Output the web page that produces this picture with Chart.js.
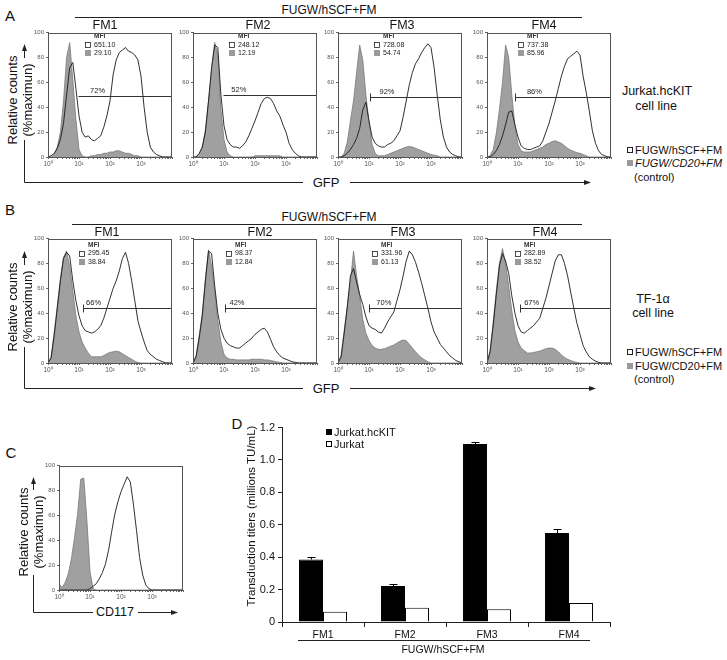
<!DOCTYPE html>
<html><head><meta charset="utf-8">
<script src="https://cdn.jsdelivr.net/npm/chart.js@4.4.1/dist/chart.umd.min.js"></script>
<style>
body{margin:0;background:#fff;width:727px;height:660px;position:relative;overflow:hidden;font-family:"Liberation Sans",Arial,sans-serif;color:#111}
.t{position:absolute;white-space:nowrap;line-height:1}
canvas{position:absolute}
</style></head><body>
<svg id="deco" width="727" height="660" style="position:absolute;left:0;top:0" xmlns="http://www.w3.org/2000/svg">
 <g stroke="#222" stroke-width="1" fill="none">
  <line x1="75" y1="17.5" x2="582" y2="17.5"/>
  <line x1="72" y1="224.5" x2="582" y2="224.5"/>
  <polyline points="24.5,140 24.5,182.5 303,182.5"/>
  <line x1="350" y1="182.5" x2="584" y2="182.5"/>
  <line x1="24.5" y1="51" x2="24.5" y2="58"/>
  <polyline points="24.5,347 24.5,388.5 303,388.5"/>
  <line x1="350" y1="388.5" x2="589" y2="388.5"/>
  <line x1="24.5" y1="258" x2="24.5" y2="265"/>
  <polyline points="33.5,575 33.5,612.5 93,612.5"/>
  <line x1="138" y1="612.5" x2="171" y2="612.5"/>
  <line x1="33.5" y1="484" x2="33.5" y2="490"/>
  <line x1="298" y1="640.5" x2="590" y2="640.5"/>
 </g>
 <g fill="#222">
  <polygon points="24.5,44 22,51 27,51"/>
  <polygon points="591,182.5 584,180 584,185"/>
  <polygon points="24.5,251 22,258 27,258"/>
  <polygon points="596,388.5 589,386 589,391"/>
  <polygon points="33.5,477 31,484 36,484"/>
  <polygon points="178,612.5 171,610 171,615"/>
 </g>
</svg>
<script>
// ---------------- DATA ----------------
const LOG_X = [0,0.1,0.2,0.3,0.4,0.5,0.6,0.7,0.8,0.9,1.0,1.1,1.2,1.3,1.4,1.5,1.6,1.7,1.8,1.9,2.0,2.1,2.2,2.3,2.4,2.5,2.6,2.7,2.8,2.9,3.0,3.1,3.2,3.3,3.4,3.5,3.6,3.7,3.8,3.9,4.0];
const LOG_TICK_LABELS = ['10\u2070','10\u00b9','10\u00b2','10\u00b3'];
const FM_NAMES = ['FM1','FM2','FM3','FM4'];

// Panel A (Jurkat.hcKIT): test = FUGW/hSCF+FM, ctrl = FUGW/CD20+FM
const A_FM1_TEST = [0,1,3,7,14,27,50,72,76,55,33,20,16,17,14,13,15,17,24,33,45,66,78,84,86,88,85,84,82,78,65,40,20,8,4,2,1,0,0,0,0];
const A_FM1_CTRL = [0,0,2,8,20,45,80,92,62,30,6,1,0,0,1,1,2,2,3,3,4,4,5,5,4,3,3,2,1,1,0,0,0,0,0,0,0,0,0,0,0];
const A_FM2_TEST = [0,0,3,8,20,45,72,90,88,50,25,14,10,8,8,7,9,12,17,23,29,36,43,47,48,47,43,37,33,26,20,11,6,3,1,0,0,0,0,0,0];
const A_FM2_CTRL = [0,0,2,8,22,45,70,92,82,38,14,4,1,0,0,0,0,0,0,0,1,1,1,1,1,1,1,1,1,0,0,0,0,0,0,0,0,0,0,0,0];
const A_FM3_TEST = [0,0,1,3,6,10,15,23,38,44,29,16,11,9,8,8,10,11,13,17,21,32,45,58,68,75,79,84,88,91,88,72,50,30,16,8,4,2,1,0,0];
const A_FM3_CTRL = [0,0,3,12,29,45,68,90,78,50,28,10,3,1,1,1,2,3,4,5,6,7,8,8.5,8,7,6,5,4,3,2,1.5,1,0,0,0,0,0,0,0,0];
const A_FM4_TEST = [0,0,2,5,10,17,26,36,37,26,16,9,7,6,6,7,8,9,13,20,27,36,45,55,65,73,79,81,83,85,82,65,52,37,21,11,5,2,1,0,0];
const A_FM4_CTRL = [0,1,6,19,38,60,90,80,50,25,10,5,4,4,4,5,6,7,8,10,11,12.5,13,12,11,9,7,5.5,4.5,3.5,3,2,1,0,0,0,0,0,0,0,0];
const A_MFI_TEST = ['651.10','248.12','728.08','737.38'];
const A_MFI_CTRL = ['29.10','12.19','54.74','85.96'];
const A_GATE_PCT = ['72%','52%','92%','86%'];
const A_GATE_START = [0.97,0.96,1.02,0.9];
const A_GATE_LEVEL = [49,49.5,48.5,48.5];

// Panel B (TF-1alpha)
const B_FM1_TEST = [0,4,22,44,66,84,89,86,66,50,38,30,26,25,24,25,27,30,36,44,52,60,66,74,84,89,80,66,50,34,25,17,10,7,5,3,2,1,0,0,0];
const B_FM1_CTRL = [0,5,25,46,68,85,90,78,58,38,25,17,12,8,5,5,5,5,6,7.5,8.5,9,9.5,9,7.5,6,4.5,3,1.5,0.5,0,0,0,0,0,0,0,0,0,0,0];
const B_FM2_TEST = [0,5,20,38,66,90,88,62,40,27,20,16,14,13,12,12,14,16,18,20,23,25,27,28,25,19,13,9,6,4,3,2,1,0.5,0,0,0,0,0,0,0];
const B_FM2_CTRL = [0,6,22,40,68,91,78,58,34,17,7,4,3,3,2.5,2.5,2.5,2.5,2.5,3,3,3,3,2.5,2.5,2,1.5,1,0.5,0,0,0,0,0,0,0,0,0,0,0,0];
const B_FM3_TEST = [0,5,24,45,70,76,65,55,47,37,30,28,27,25,24,28,33,37,41,50,59,70,82,90,87,81,73,64,54,44,33,25,20,15,12,9,6,4,2,1,0];
const B_FM3_CTRL = [0,6,26,46,65,90,70,54,35,24,18,14,12,11,11,11.5,12.5,13.5,14.5,16,17.5,18.5,18,15,12,9,6.5,4,2.5,1,0,0,0,0,0,0,0,0,0,0,0];
const B_FM4_TEST = [0,9,30,55,78,88,82,72,54,40,30,25,24,26,28,30,33,36,44,52,62,72,82,87,87,80,70,57,44,32,23,14,9,5,3,1.5,0.5,0,0,0,0];
const B_FM4_CTRL = [0,10,33,58,80,92,80,62,42,26,17,12,10,8,8,8.5,9,9.5,10.5,11.5,12,12,11,9,6.5,4.5,3,2,1,0.5,0,0,0,0,0,0,0,0,0,0,0];
const B_MFI_TEST = ['295.45','98.37','331.96','282.89'];
const B_MFI_CTRL = ['38.84','12.84','61.13','38.52'];
const B_GATE_PCT = ['66%','42%','70%','67%'];
const B_GATE_START = [1.14,1.04,1.01,1.05];
const B_GATE_LEVEL = [44.5,44.5,44.5,44.5];

// Panel C (CD117)
const C_TEST = [0,0,0,0,0,0,0,0,0,0,1,3,5,9,14,21,32,47,61,71,79,85,91,87,69,48,26,12,4,1,0,0,0,0,0,0,0,0,0,0,0];
const C_CTRL = [5,2,6,13,25,42,61,89,90,56,15,1,0,0,0,0,0,0,0,0,0,0,0,0,0,0,0,0,0,0,0,0,0,0,0,0,0,0,0,0,0];

// Panel D (transduction titers, millions TU/mL)
const D_CATS = ['FM1','FM2','FM3','FM4'];
const D_KIT = [0.386,0.222,1.098,0.549];
const D_KIT_ERR = [0.014,0.011,0.016,0.025];
const D_JURKAT = [0.063,0.088,0.078,0.118];
const D_Y_TICKS = [0,0.2,0.4,0.6,0.8,1.0,1.2];

// ---------------- LAYOUT ----------------
const FONT = '"Liberation Sans", Arial, sans-serif';
const H_LEFT = [48,193,338,487], H_W = 124, H_H = 126;
const A_TOP = 31, B_TOP = 237;
const A_MFI_X = [1.19,1.17,1.15,1.0], B_MFI_X = [1.0,1.06,1.1,0.9];
const A_PCT_X = [1.6,1.48,1.58,1.53], B_PCT_X = [1.47,1.42,1.48,1.44];
const A_ROWS = [97,90,83.5], B_ROWS = [95,88,81.5];

function text(str, x, y, o={}){
  const d=document.createElement('div'); d.className='t'; d.textContent=str;
  d.style.left=x+'px'; d.style.top=y+'px';
  d.style.fontSize=(o.size||12)+'px';
  if(o.weight) d.style.fontWeight=o.weight;
  if(o.italic) d.style.fontStyle='italic';
  if(o.bg) d.style.background=o.bg;
  const a=o.anchor||'c';
  let tr = a==='c' ? 'translate(-50%,-50%)' : (a==='l' ? 'translate(0,-50%)' : 'translate(-100%,-50%)');
  if(o.rot) tr += ' rotate('+o.rot+'deg)';
  d.style.transform=tr;
  document.body.appendChild(d); return d;
}
function box(x,y,s,fill,stroke){
  const d=document.createElement('div'); d.style.position='absolute';
  d.style.left=x+'px'; d.style.top=(y-s/2)+'px'; d.style.width=s+'px'; d.style.height=s+'px';
  d.style.boxSizing='border-box'; d.style.background=fill; if(stroke) d.style.border='1px solid '+stroke;
  document.body.appendChild(d);
}
function makeCanvas(left, top, w, h){
  const c=document.createElement('canvas');
  c.width=w; c.height=h; c.style.left=left+'px'; c.style.top=top+'px';
  c.style.width=w+'px'; c.style.height=h+'px';
  document.body.appendChild(c); return c;
}

const framePlugin = {
  id:'frame',
  afterDraw(chart){
    const {ctx, chartArea:a} = chart;
    ctx.save(); ctx.strokeStyle='#555'; ctx.lineWidth=1;
    ctx.strokeRect(Math.round(a.left)+0.5, Math.round(a.top)+0.5, Math.round(a.right-a.left)-1, Math.round(a.bottom-a.top));
    ctx.restore();
  }
};
const annotPlugin = {
  id:'annot',
  afterDatasetsDraw(chart, args, o){
    if(!o || o.gateX===undefined) return;
    const {ctx, scales:{x,y}} = chart;
    ctx.save();
    const gx = Math.round(x.getPixelForValue(o.gateX))+0.5;
    const gy = Math.round(y.getPixelForValue(o.gateY))+0.5;
    ctx.strokeStyle='#333'; ctx.lineWidth=1;
    ctx.beginPath(); ctx.moveTo(gx,gy); ctx.lineTo(x.right,gy);
    if(o.tick){ ctx.moveTo(gx,gy-4); ctx.lineTo(gx,gy+4); }
    ctx.stroke();
    ctx.fillStyle='#222'; ctx.font='7.5px '+FONT; ctx.textAlign='center'; ctx.textBaseline='bottom';
    ctx.fillText(o.pct, x.getPixelForValue(o.pctX), gy-1.5);
    const sx = Math.round(x.getPixelForValue(o.mfiX));
    const r0=y.getPixelForValue(o.rows[0]), r1=y.getPixelForValue(o.rows[1]), r2=y.getPixelForValue(o.rows[2]);
    ctx.textAlign='left'; ctx.textBaseline='middle';
    ctx.font='bold 6.5px '+FONT; ctx.fillStyle='#333'; ctx.fillText('MFI', sx+9, r0);
    ctx.strokeStyle='#222'; ctx.lineWidth=0.8; ctx.strokeRect(sx+0.5, Math.round(r1-3)+0.5, 5, 5);
    ctx.fillStyle='#9a9a9a'; ctx.fillRect(sx, Math.round(r2-3), 6, 6);
    ctx.fillStyle='#222'; ctx.font='7px '+FONT;
    ctx.fillText(o.mfi[0], sx+9, r1); ctx.fillText(o.mfi[1], sx+9, r2);
    ctx.restore();
  }
};

function logTicks(axis){
  const t=[];
  for(let d=0; d<4; d++){
    t.push({value:d});
    [2,3,4,5,6,7,8,9].forEach(m=>t.push({value:d+Math.log10(m)}));
  }
  t.push({value:4});
  axis.ticks=t;
}

function histogram(left, top, test, ctrl, annot){
  const c = makeCanvas(left-18, top-4, 18+H_W+3, 4+H_H+14);
  return new Chart(c, {
    type:'line',
    data:{datasets:[
      {data: LOG_X.map((v,i)=>({x:v,y:test[i]})), borderColor:'#1a1a1a', borderWidth:0.9, pointRadius:0, fill:false, tension:0, order:1},
      {data: LOG_X.map((v,i)=>({x:v,y:ctrl[i]})), borderColor:'#7a7a7a', borderWidth:0.8, backgroundColor:'#a0a0a0', fill:'origin', pointRadius:0, tension:0, order:2}
    ]},
    options:{
      responsive:false, animation:false, events:[], devicePixelRatio:1,
      layout:{padding:{left:0,right:3,top:4,bottom:0}},
      plugins:{legend:{display:false}, tooltip:{enabled:false}, annot: annot||{}},
      scales:{
        x:{type:'linear', min:0, max:4, afterBuildTicks:logTicks,
           ticks:{autoSkip:false, maxRotation:0, padding:1, color:'#555', font:{size:6.5, family:FONT},
                  callback:(v)=> (Math.abs(v-Math.round(v))<1e-9 && Math.round(v)<4) ? LOG_TICK_LABELS[Math.round(v)] : ''},
           grid:{drawOnChartArea:false, tickLength:2, color:'#666'}, border:{color:'#555'},
           afterFit:(s)=>{s.height=14;}},
        y:{min:0, max:100, ticks:{stepSize:20, padding:2, color:'#555', font:{size:6, family:FONT}},
           grid:{drawOnChartArea:false, tickLength:2, color:'#666'}, border:{color:'#555'},
           afterFit:(s)=>{s.width=18;}}
      }
    },
    plugins:[framePlugin, annotPlugin]
  });
}

const A_TEST=[A_FM1_TEST,A_FM2_TEST,A_FM3_TEST,A_FM4_TEST], A_CTRL=[A_FM1_CTRL,A_FM2_CTRL,A_FM3_CTRL,A_FM4_CTRL];
const B_TEST=[B_FM1_TEST,B_FM2_TEST,B_FM3_TEST,B_FM4_TEST], B_CTRL=[B_FM1_CTRL,B_FM2_CTRL,B_FM3_CTRL,B_FM4_CTRL];
for(let i=0;i<4;i++){
  histogram(H_LEFT[i], A_TOP, A_TEST[i], A_CTRL[i], {gateX:A_GATE_START[i], gateY:A_GATE_LEVEL[i], tick:i>=2, pct:A_GATE_PCT[i], pctX:A_PCT_X[i], mfiX:A_MFI_X[i], rows:A_ROWS, mfi:[A_MFI_TEST[i],A_MFI_CTRL[i]]});
  histogram(H_LEFT[i], B_TOP, B_TEST[i], B_CTRL[i], {gateX:B_GATE_START[i], gateY:B_GATE_LEVEL[i], tick:true, pct:B_GATE_PCT[i], pctX:B_PCT_X[i], mfiX:B_MFI_X[i], rows:B_ROWS, mfi:[B_MFI_TEST[i],B_MFI_CTRL[i]]});
}
// Panel C
histogram(59, 464, C_TEST, C_CTRL, null);

// Panel D
const errPlugin = {
  id:'errbars',
  afterDatasetsDraw(chart){
    const {ctx, scales:{y}} = chart;
    const meta = chart.getDatasetMeta(0);
    ctx.save(); ctx.strokeStyle='#000'; ctx.lineWidth=1;
    meta.data.forEach((el,i)=>{
      const x=Math.round(el.x)+0.5, yt=Math.round(y.getPixelForValue(D_KIT[i]+D_KIT_ERR[i]))+0.5;
      ctx.beginPath(); ctx.moveTo(x, el.y); ctx.lineTo(x, yt); ctx.moveTo(x-4, yt); ctx.lineTo(x+4, yt); ctx.stroke();
    });
    ctx.restore();
  }
};
const cd = makeCanvas(252, 418, 30+328+4, 8+196+24);
new Chart(cd, {
  type:'bar',
  data:{labels:D_CATS, datasets:[
    {label:'Jurkat.hcKIT', data:D_KIT, backgroundColor:'#000', borderColor:'#000', borderWidth:1},
    {label:'Jurkat', data:D_JURKAT, backgroundColor:'#fff', borderColor:'#000', borderWidth:1}
  ]},
  options:{
    responsive:false, animation:false, events:[], devicePixelRatio:1,
    layout:{padding:{left:0,right:4,top:8,bottom:0}},
    datasets:{bar:{categoryPercentage:0.585, barPercentage:1.0}},
    plugins:{legend:{display:false}, tooltip:{enabled:false}},
    scales:{
      x:{grid:{offset:true, drawOnChartArea:false, tickLength:5, color:'#222'}, border:{color:'#222'},
         ticks:{padding:2, color:'#111', font:{size:10.5, family:FONT}}, afterFit:(s)=>{s.height=24;}},
      y:{min:0, max:1.2, afterBuildTicks:(a)=>{a.ticks=D_Y_TICKS.map(v=>({value:v}));},
         ticks:{padding:3, color:'#111', font:{size:11, family:FONT}, callback:(v)=> v===0 ? '0' : v.toFixed(1)},
         grid:{drawOnChartArea:false, tickLength:4, color:'#222'}, border:{color:'#222'},
         afterFit:(s)=>{s.width=30;}}
    }
  },
  plugins:[errPlugin]
});

// ---------------- TEXT ----------------
text('A', 10, 15, {size:15}); text('B', 10, 209, {size:15});
text('C', 11, 452, {size:15}); text('D', 237, 423, {size:15});
text('FUGW/hSCF+FM', 329, 10, {size:12});
text('FUGW/hSCF+FM', 329, 217, {size:12});
const A_FM_X=[105,258,402,544], B_FM_X=[107,260,403,545];
for(let i=0;i<4;i++){ text(FM_NAMES[i], A_FM_X[i], 25, {size:12.5}); text(FM_NAMES[i], B_FM_X[i], 232, {size:12.5}); }
[[100,12,27],[307,12,27],[532,23,38]].forEach(([cy,x1,x2])=>{
  text('Relative counts', x1, cy, {size:13, rot:-90});
  text('(%maximun)', x2, cy, {size:13, rot:-90, bg:'#fff'});
});
text('GFP', 326, 182, {size:13}); text('GFP', 326, 388, {size:13});
text('CD117', 115, 612, {size:12.5});
text('Jurkat.hcKIT', 657, 91, {size:12.5}); text('cell line', 656, 106, {size:12.5});
text('TF-1\u03b1', 653, 299, {size:12.5}); text('cell line', 653, 313, {size:12.5});
// legends A/B
[[150,163,177,true],[352,366,379,false]].forEach(([r1,r2,r3,it])=>{
  box(627, r1, 6, '#fff', '#222'); text('FUGW/hSCF+FM', 635, r1, {size:11, anchor:'l'});
  box(627, r2, 6, '#9a9a9a'); text('FUGW/CD20+FM', 635, r2, {size:11, anchor:'l', italic:it});
  text('(control)', 634, r3, {size:11, anchor:'l'});
});
// panel D texts
text('Transduction titers (millions TU/mL)', 252, 516, {size:11.5, rot:-90});
text('FUGW/hSCF+FM', 443, 649, {size:10.5});
box(326, 432, 6, '#000'); text('Jurkat.hcKIT', 334, 432, {size:11, anchor:'l'});
box(326, 444, 6, '#fff', '#000'); text('Jurkat', 334, 444, {size:11, anchor:'l'});
</script>
</body></html>
